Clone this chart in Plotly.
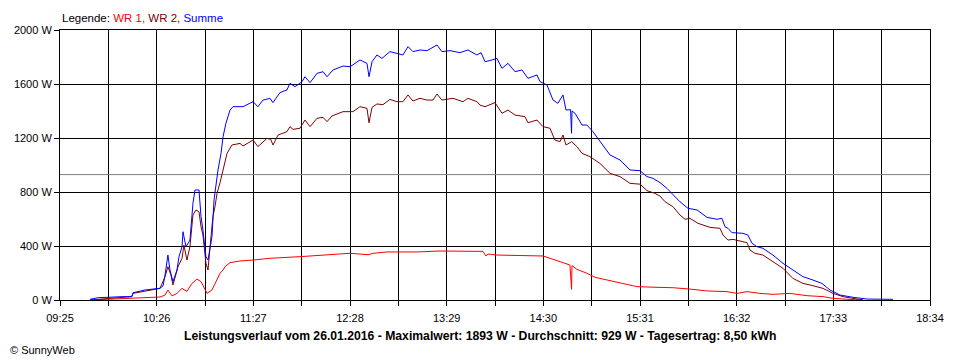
import plotly.graph_objects as go

# ---- data (time in minutes after midnight, power in W) ----
wr1_t = [583.9, 611.1, 628.1, 631.3, 633.1, 635.7, 638.8, 642.0, 645.1, 648.3, 651.4, 654.0,
         655.9, 657.8, 660.9, 662.8, 664.1, 666.0, 667.9, 669.1, 672.3, 678.6, 686.8, 697.5,
         716.4, 737.3, 748.0, 760.0, 761.9, 771.3, 790.3, 804.8, 831.9, 833.8, 835.1, 840.7,
         869.8, 874.2, 880.5, 886.8, 887.8, 888.1, 891.2, 897.5, 902.6, 912.1, 920.3, 929.1,
         941.7, 951.8, 962.5, 973.3, 985.9, 992.2, 998.5, 1006.7, 1014.9, 1025.6, 1036.4,
         1046.5, 1052.8, 1061.6, 1069.8]
wr1_w = [0, 12, 22, 37, 74, 30, 49, 86, 64, 123, 155, 136,
         86, 49, 74, 123, 160, 198, 222, 247, 277, 289, 296, 309,
         321, 338, 346, 335, 345, 356, 356, 363, 360, 326, 341, 333,
         326, 309, 284, 259, 79, 255, 227, 198, 168, 143, 118, 99,
         94, 91, 81, 67, 62, 49, 62, 49, 42, 49, 32,
         25, 12, 7, 0]

wr2_t = [583.9, 590.2, 610.2, 611.1, 619.7, 628.1, 631.3, 633.1, 635.0, 636.3, 639.5, 642.0,
         643.2, 645.1, 647.0, 648.9, 650.8, 652.7, 654.0, 655.2, 657.1, 658.4, 659.7, 661.5,
         662.8, 664.1, 666.0, 667.9, 670.4, 673.5, 678.6, 680.5, 686.8, 689.9, 695.6, 698.0,
         699.4, 702.6, 708.2, 710.1, 712.0, 716.4, 719.6, 722.8, 727.2, 731.0, 733.5, 736.6,
         743.6, 749.9, 754.3, 758.7, 760.0, 761.9, 765.0, 768.8, 773.2, 777.6, 781.4, 784.6,
         787.7, 792.2, 796.6, 800.4, 802.9, 806.0, 813.0, 819.3, 822.4, 828.1, 830.0, 833.2,
         839.5, 843.9, 847.7, 852.1, 858.4, 860.3, 866.0, 869.8, 874.2, 877.3, 880.5, 882.4,
         884.3, 887.9, 891.2, 894.4, 899.4, 905.7, 912.1, 918.4, 924.7, 931.0, 935.4, 940.4,
         943.6, 946.8, 951.8, 956.2, 959.4, 962.5, 967.6, 975.2, 981.5, 983.4, 986.5, 989.7,
         998.5, 1000.4, 1003.5, 1008.6, 1014.9, 1021.2, 1027.5, 1033.8, 1040.1, 1046.5,
         1052.8, 1059.1, 1067.9, 1071.7]
wr2_w = [0, 7, 25, 49, 67, 86, 173, 247, 185, 111, 247, 309,
         407, 296, 395, 630, 667, 654, 543, 481, 272, 222, 395, 617,
         691, 790, 870, 963, 1086, 1148, 1160, 1141, 1185, 1136, 1197, 1190,
         1148, 1222, 1247, 1284, 1264, 1272, 1333, 1284, 1346, 1353, 1321, 1363,
         1395, 1395, 1432, 1420, 1313, 1427, 1452, 1447, 1486, 1469, 1469, 1519,
         1474, 1494, 1481, 1481, 1526, 1481, 1494, 1469, 1494, 1469, 1444, 1432,
         1462, 1383, 1407, 1370, 1358, 1313, 1333, 1284, 1272, 1185, 1173, 1222,
         1148, 1173, 1136, 1086, 1062, 1012, 938, 914, 864, 858, 810, 790,
         770, 728, 691, 630, 598, 605, 568, 538, 531, 481, 444, 449,
         425, 370, 346, 333, 284, 235, 160, 123, 106, 86,
         49, 25, 7, 2]

sum_t = [583.9, 589.0, 604.8, 610.4, 611.1, 618.6, 628.1, 630.0, 631.3, 633.1, 634.4, 636.3,
         638.8, 640.1, 642.0, 642.6, 644.5, 647.0, 648.9, 650.2, 652.7, 654.0, 655.2, 657.1,
         658.4, 660.9, 662.2, 663.4, 664.7, 666.6, 667.9, 669.7, 672.3, 674.2, 680.5, 686.8,
         689.9, 693.1, 697.5, 699.4, 703.8, 708.2, 710.1, 713.3, 717.7, 719.6, 722.8, 727.2,
         731.0, 733.5, 737.3, 743.6, 748.0, 754.3, 758.7, 760.0, 761.9, 765.0, 768.2, 773.2,
         777.6, 781.4, 784.6, 787.7, 792.2, 796.6, 802.9, 806.0, 811.1, 817.4, 822.4, 828.1,
         830.7, 833.2, 837.6, 840.7, 843.9, 847.7, 852.1, 856.5, 860.3, 866.0, 867.9, 872.3,
         876.1, 879.2, 882.4, 884.3, 887.2, 887.8, 888.1, 890.0, 894.4, 897.5, 901.3, 905.7,
         912.1, 918.4, 924.7, 931.0, 935.4, 939.2, 943.6, 948.0, 951.8, 956.2, 961.3, 967.0,
         973.3, 979.6, 982.7, 984.6, 986.5, 989.0, 996.0, 999.1, 1001.7, 1004.8, 1008.6,
         1014.9, 1021.2, 1027.5, 1033.8, 1040.1, 1045.8, 1050.9, 1057.2, 1065.4, 1074.2, 1090.6]
sum_w = [5, 17, 25, 25, 54, 74, 87, 104, 185, 333, 222, 136,
         222, 321, 395, 506, 395, 444, 716, 815, 815, 617, 518, 321,
         296, 469, 741, 864, 963, 1086, 1210, 1309, 1407, 1432, 1432, 1469,
         1432, 1481, 1494, 1462, 1536, 1556, 1605, 1580, 1617, 1654, 1610, 1679,
         1691, 1654, 1704, 1733, 1728, 1778, 1753, 1654, 1765, 1815, 1790, 1840,
         1827, 1815, 1877, 1840, 1852, 1847, 1889, 1840, 1847, 1832, 1852, 1815,
         1832, 1765, 1778, 1790, 1716, 1753, 1691, 1704, 1642, 1667, 1617, 1593,
         1481, 1457, 1519, 1407, 1410, 1235, 1400, 1383, 1296, 1296, 1247, 1173,
         1074, 1037, 963, 958, 914, 901, 870, 827, 778, 728, 679, 667,
         612, 598, 605, 543, 531, 499, 494, 481, 420, 395, 383,
         333, 272, 222, 173, 148, 123, 74, 37, 20, 7, 5]

average_w = 929
x_start, x_step = 565, 30.5
x_tick_labels = ["09:25", "", "10:26", "", "11:27", "", "12:28", "", "13:29", "",
                 "14:30", "", "15:31", "", "16:32", "", "17:33", "", "18:34"]
y_tick_values = [0, 400, 800, 1200, 1600, 2000]
y_tick_labels = ["0 W", "400 W", "800 W", "1200 W", "1600 W", "2000 W"]

FONT = "Liberation Sans, Arial, sans-serif"

x_ticks = [x_start + x_step * i for i in range(len(x_tick_labels))]
x_end = x_ticks[-1]

fig = go.Figure()
fig.add_trace(go.Scatter(x=[x_start, x_end], y=[average_w, average_w], mode="lines",
                         line=dict(color="#808080", width=1), hoverinfo="skip"))
fig.add_trace(go.Scatter(x=wr1_t, y=wr1_w, mode="lines", name="WR 1",
                         line=dict(color="#FF0000", width=1)))
fig.add_trace(go.Scatter(x=wr2_t, y=wr2_w, mode="lines", name="WR 2",
                         line=dict(color="#800000", width=1)))
fig.add_trace(go.Scatter(x=sum_t, y=sum_w, mode="lines", name="Summe",
                         line=dict(color="#0000FF", width=1)))

# the page body has an 8px margin, so the figure is sized/offset to compensate
fig.update_layout(
    width=952, height=352,
    margin=dict(l=52, r=30, t=22, b=60),
    paper_bgcolor="white", plot_bgcolor="white",
    showlegend=False,
    font=dict(family=FONT, size=11, color="black"),
)
fig.update_xaxes(
    range=[x_start, x_end], tickvals=x_ticks, ticktext=x_tick_labels,
    showgrid=True, gridcolor="black", gridwidth=1, automargin=False,
    showline=True, linecolor="black", linewidth=1, mirror=True,
    ticks="outside", ticklen=5, tickcolor="black", zeroline=False,
    ticklabelstandoff=3,
    tickfont=dict(family=FONT, size=11),
)
fig.update_yaxes(
    range=[0, 2000], tickvals=y_tick_values, ticktext=y_tick_labels,
    showgrid=True, gridcolor="black", gridwidth=1, automargin=False,
    showline=True, linecolor="black", linewidth=1, mirror=True,
    ticks="outside", ticklen=5, tickcolor="black", zeroline=False,
    tickfont=dict(family=FONT, size=11),
)

fig.add_annotation(
    xref="paper", yref="paper", x=0, y=1, xanchor="left", yanchor="bottom", yshift=4,
    showarrow=False, align="left",
    text=("Legende: <span style='color:#FF0000'>WR 1, </span>"
          "<span style='color:#800000'>WR 2, </span>"
          "<span style='color:#0000FF'>Summe</span>"),
    font=dict(family=FONT, size=11.5, color="black"),
)
fig.add_annotation(
    xref="paper", yref="paper", x=0.4828, y=0, xanchor="center", yanchor="top", yshift=-27,
    showarrow=False,
    text=("<b>Leistungsverlauf vom 26.01.2016 - Maximalwert: 1893 W - "
          "Durchschnitt: 929 W - Tagesertrag: 8,50 kWh</b>"),
    font=dict(family=FONT, size=12.2, color="black"),
)
fig.add_annotation(
    xref="paper", yref="paper", x=-0.0598, y=0, xanchor="left", yanchor="top", yshift=-42,
    showarrow=False, text="© SunnyWeb",
    font=dict(family=FONT, size=11, color="black"),
)

fig.write_html("out.html")
